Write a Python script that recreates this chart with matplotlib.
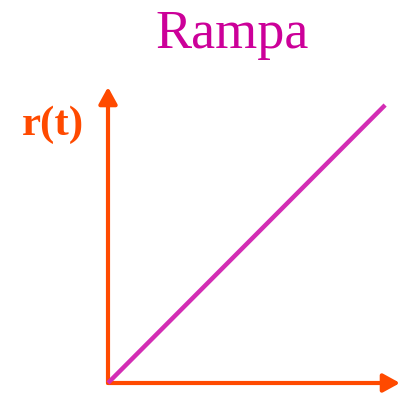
import matplotlib
matplotlib.use('Agg')
import matplotlib.pyplot as plt

# ============================================================
# DATA
# ============================================================
t = [0, 9.49]
r = [0, 9.39]
x_max = 10
y_max = 10
title = "Rampa"
ylabel = "r(t)"

ORANGE = "#FF4A00"
MAGENTA = "#D32DB4"
TITLE_COLOR = "#CC0099"

W, H = 401, 417
fig = plt.figure(figsize=(W / 100, H / 100), dpi=100)

# origin at pixel (108, 383), axes ends at x=400 / y=87
x0, y0 = 108, 383
ax = fig.add_axes([x0 / W, (H - y0) / H, (400 - x0) / W, (y0 - 87) / H])
ax.set_xlim(0, x_max)
ax.set_ylim(0, y_max)
ax.axis('off')

arrow = dict(arrowstyle='-|>,head_length=1.0,head_width=0.55', color=ORANGE,
             lw=3, mutation_scale=10, shrinkA=0, shrinkB=0)
ax.annotate('', xy=(x_max, 0), xytext=(0, 0), arrowprops=arrow, annotation_clip=False)
ax.annotate('', xy=(0, y_max), xytext=(0, 0), arrowprops=arrow, annotation_clip=False)

ax.plot(t, r, color=MAGENTA, lw=3.2, solid_capstyle='butt', clip_on=False, zorder=3)

fig.text(232 / W, 1 - 48 / H, title, ha='center', va='baseline',
         fontsize=39, color=TITLE_COLOR, family='Liberation Serif')
fig.text(22 / W, 1 - 135 / H, ylabel, ha='left', va='baseline',
         fontsize=31, color=ORANGE, family='Liberation Serif', fontweight='bold')

plt.savefig('out.png', dpi=100)
